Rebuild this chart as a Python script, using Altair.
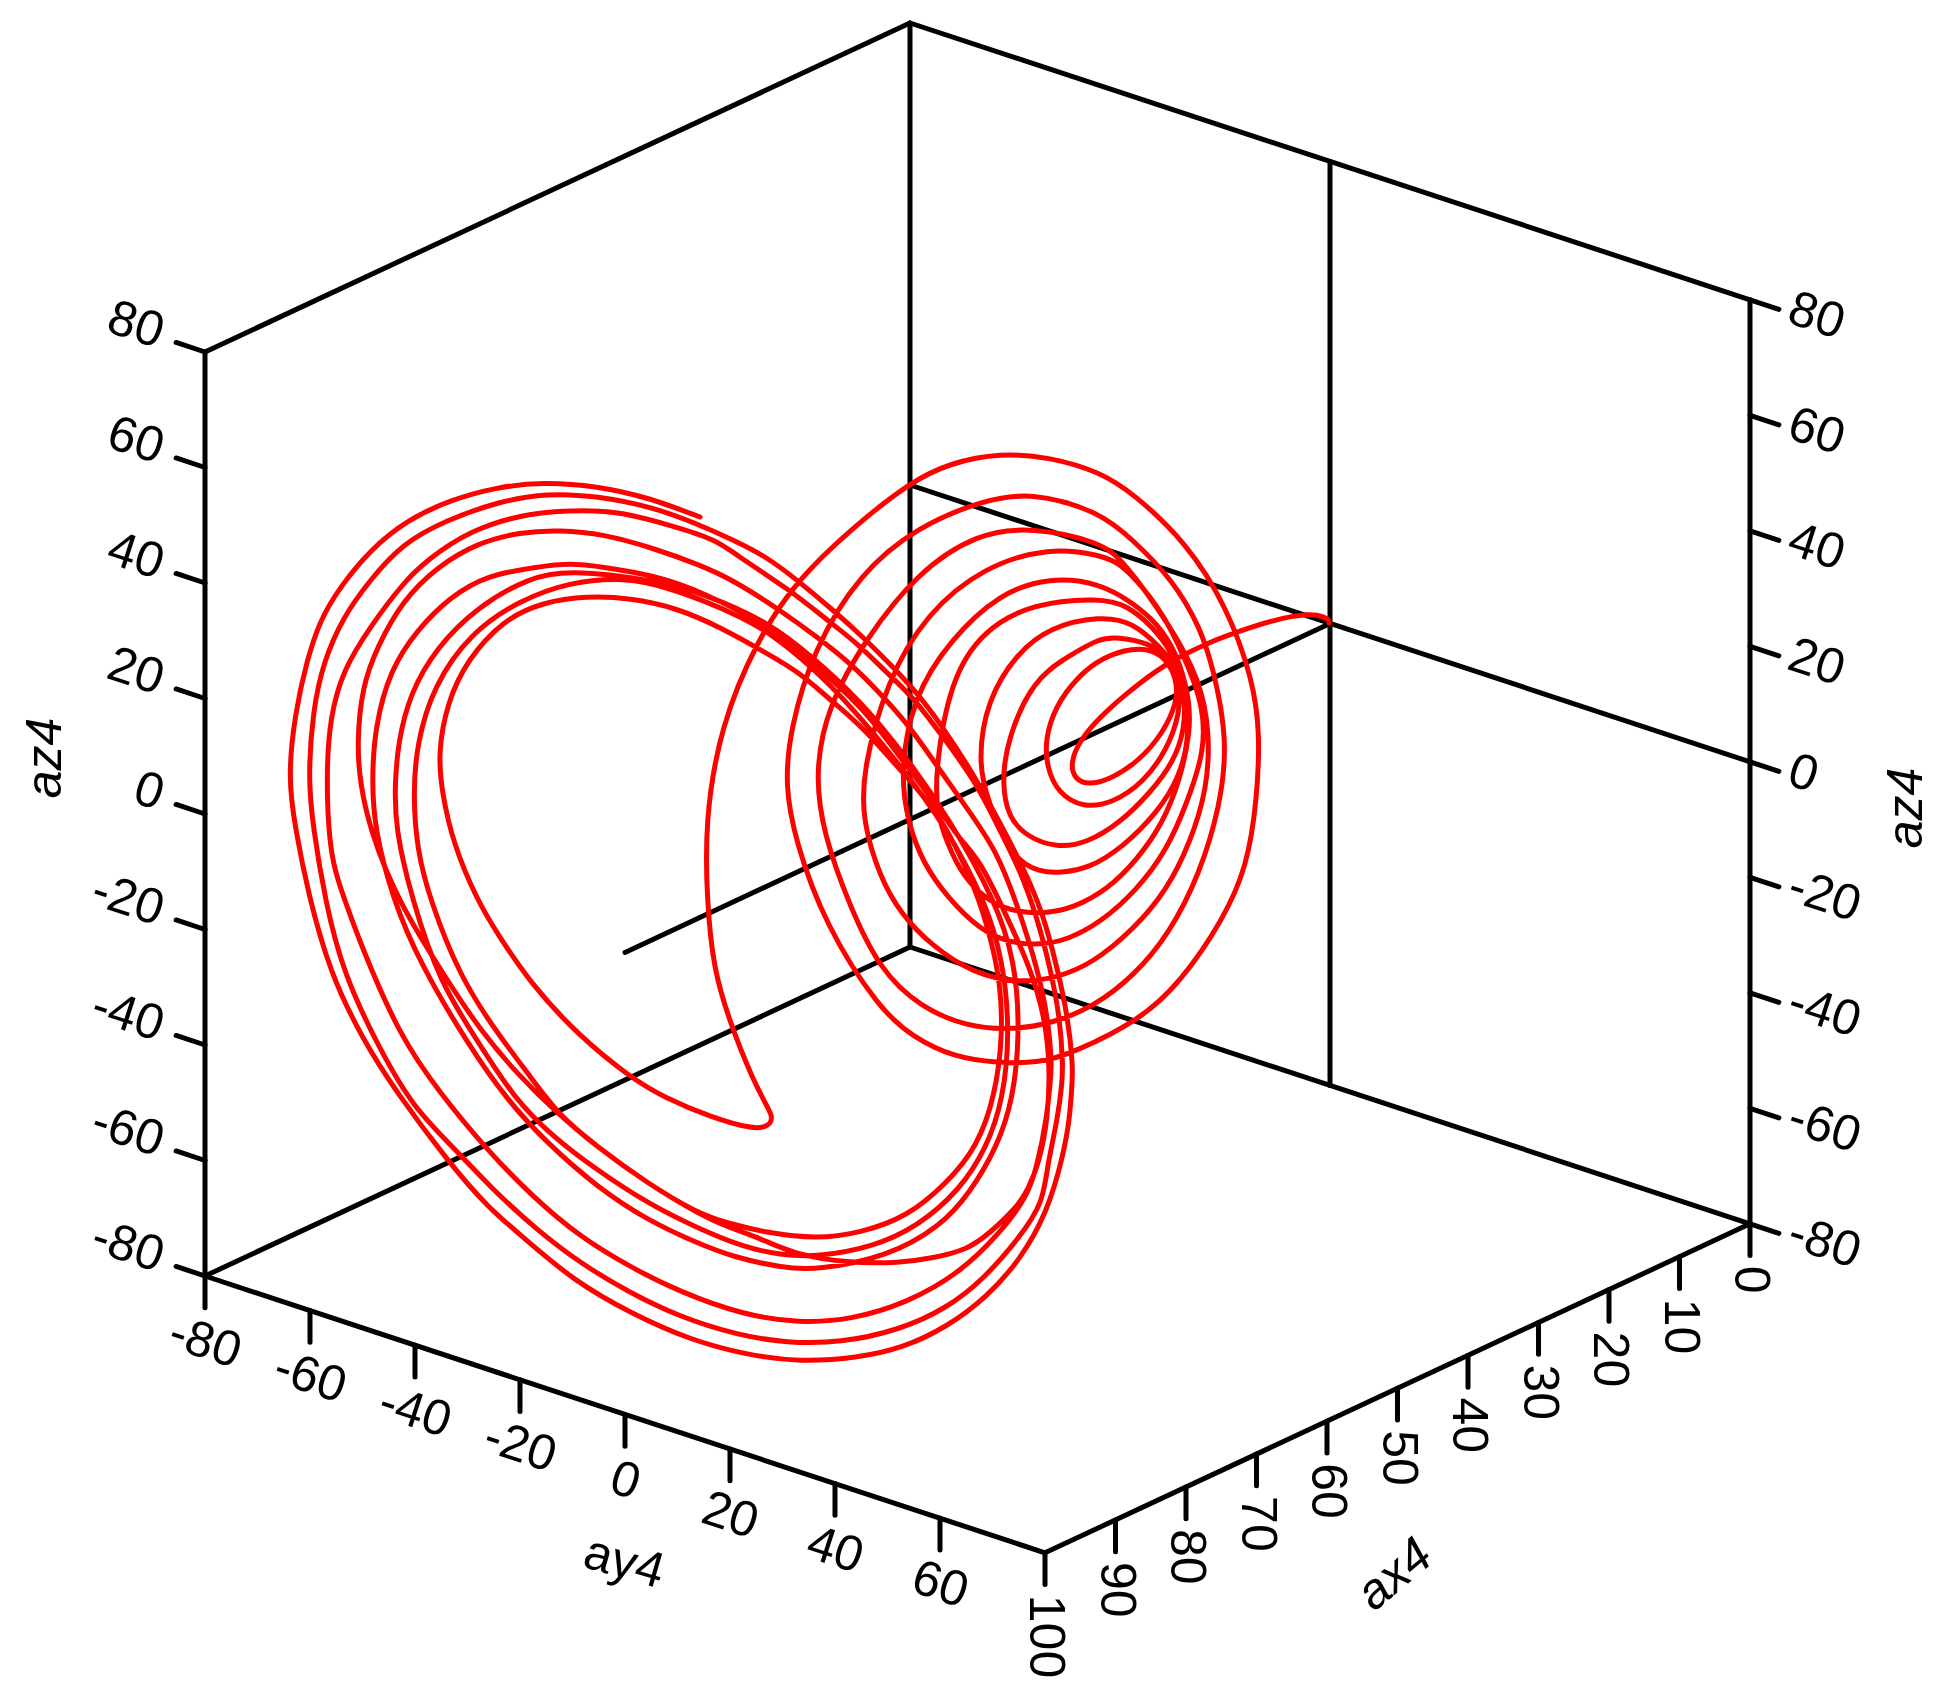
import altair as alt
import pandas as pd

# ---- values: screen trace of the projected trajectory
approach = [(1329,623),(1329,620),(1325,617),(1310,613),(1273,620),(1237,632),(1210,642),(1177,658),(1157,670),(1127,693),(1100,717),(1080,740),(1070,763),(1075,780)]
right_turn_1 = [(1090,785),(1113,778),(1140,760),(1163,733),(1177,703),(1177,680),(1167,660),(1153,650),(1133,648),(1103,657),(1077,677),(1055,707),(1045,740),(1047,768),(1058,793)]
right_turn_2 = [(1083,808),(1113,803),(1143,783),(1167,750),(1180,713),(1180,683),(1167,657),(1150,643),(1117,637),(1100,638),(1067,657),(1033,680),(1007,740),(1002,783),(1008,817),(1027,837)]
right_turn_3 = [(1057,848),(1087,843),(1120,823),(1150,793),(1173,763),(1185,730),(1185,690),(1173,663),(1160,647),(1133,622),(1100,616),(1050,627),(1017,653),(987,700),(978,760),(987,800),(1013,860)]
right_turn_4 = [(1040,872),(1060,873),(1090,868),(1123,847),(1157,813),(1180,777),(1190,733),(1185,690),(1173,653),(1153,627),(1127,605),(1100,598),(1033,603),(983,630),(950,680),(935,773),(937,813),(947,843),(963,877),(990,903),(1020,913)]
right_turn_5 = [(1047,913),(1073,908),(1107,890),(1137,860),(1163,823),(1180,780),(1190,733),(1190,700),(1177,653),(1157,623),(1133,603),(1100,583),(1050,577),(1000,593),(950,640),(913,697),(900,773),(908,823),(923,863),(947,897),(980,930),(1010,943)]
right_turn_6 = [(1040,945),(1067,940),(1100,923),(1137,890),(1167,850),(1187,803),(1205,750),(1203,707),(1190,670),(1167,620),(1143,587),(1120,563),(1100,555),(1050,547),(983,567),(927,613),(887,680),(862,773),(863,823),(880,877),(900,913),(933,947),(973,973)]
right_turn_7 = [(1017,983),(1057,978),(1093,963),(1133,930),(1167,890),(1190,843),(1207,790),(1210,733),(1200,680),(1170,625),(1123,560),(1100,542),(1033,527),(977,533),(917,573),(867,637),(827,707),(815,773),(823,833),(850,907),(880,970),(920,1007),(967,1027)]
right_turn_8 = [(1013,1030),(1053,1023),(1093,1007),(1133,977),(1170,933),(1200,873),(1220,807),(1228,740),(1213,667),(1200,627),(1173,580),(1133,540),(1100,512),(1033,492),(983,500),(917,527),(860,573),(813,650),(790,730),(785,785),(795,840),(825,925),(880,1010),(913,1037),(953,1057)]
right_turn_9 = [(997,1063),(1040,1063),(1073,1053),(1140,1020),(1180,983),(1223,920),(1247,867),(1257,800),(1260,733),(1253,680),(1227,607),(1187,543),(1133,493),(1100,472),(1050,457),(1000,453),(950,463),(910,482),(850,530),(797,580),(757,640),(720,727),(705,823)]
crossing = [(707,900),(713,967),(730,1023),(753,1080),(768,1108),(772,1116),(771,1123),(765,1127),(753,1129),(713,1118),(663,1097),(630,1077),(580,1037),(530,983),(497,933),(477,900),(453,843)]
left_turn_1 = [(442,793),(438,753),(447,703),(467,660),(503,620),(543,602),(587,596),(630,598),(677,608),(720,627),(770,655),(800,673),(827,697),(863,727),(900,770),(940,813),(977,890),(993,947),(1000,983),(1003,1033),(995,1097),(977,1147),(947,1183),(907,1217),(860,1233),(817,1239),(767,1233),(727,1223),(697,1213),(647,1183),(597,1147),(557,1113),(533,1080),(497,1033),(460,977),(430,900),(417,850)]
left_turn_2 = [(413,793),(417,743),(433,687),(470,633),(520,600),(570,582),(620,578),(653,583),(703,600),(743,618),(770,633),(810,665),(850,705),(900,765),(945,825),(985,900),(1003,960),(1010,1033),(1003,1100),(987,1147),(960,1190),(917,1227),(873,1247),(817,1257),(780,1255),(743,1247),(697,1228),(647,1203),(597,1170),(553,1137),(513,1097),(477,1040),(440,983),(412,900)]
left_turn_3 = [(395,827),(395,783),(398,743),(410,693),(437,647),(477,607),(530,577),(570,570),(653,580),(703,593),(770,623),(810,655),(860,700),(905,755),(950,820),(995,900),(1015,960),(1020,1033),(1013,1100),(997,1147),(970,1193),(940,1227),(887,1257),(817,1270),(783,1268),(733,1257),(697,1243),(647,1220),(597,1187),(547,1143),(507,1100),(467,1043),(420,963),(393,900)]
left_turn_4 = [(374,827),(372,777),(375,727),(390,670),(417,630),(450,597),(487,575),(537,567),(570,563),(603,567),(653,575),(703,592),(767,625),(810,660),(843,690),(870,717),(900,757),(933,800),(960,840),(980,860),(1007,917),(1030,967),(1045,1017),(1050,1067),(1048,1117),(1040,1160),(1028,1190),(1017,1207),(990,1233),(967,1250),(933,1258),(900,1263),(847,1263),(793,1254),(760,1238),(727,1227),(697,1213),(647,1183),(597,1147),(557,1113),(520,1077),(480,1030),(447,980),(397,900),(370,830)]
left_turn_5 = [(360,783),(357,743),(362,687),(377,647),(403,600),(437,567),(477,543),(520,532),(560,530),(603,534),(653,548),(700,565),(733,580),(780,610),(817,637),(850,663),(877,690),(907,723),(933,760),(963,803),(997,850),(1020,913),(1037,967),(1048,1017),(1052,1067),(1050,1083),(1047,1117),(1037,1167),(1027,1197),(1000,1233),(960,1273),(907,1303),(850,1320),(800,1323),(743,1315),(680,1292),(630,1267),(580,1237),(533,1197),(487,1150),(440,1093),(400,1037),(360,943),(345,900),(330,860)]
left_turn_6 = [(326,777),(330,717),(343,670),(370,627),(403,583),(427,560),(470,530),(530,512),(587,510),(620,512),(670,525),(717,540),(733,553),(790,590),(827,620),(857,643),(887,673),(913,697),(940,733),(977,783),(1003,837),(1020,870),(1037,917),(1050,967),(1060,1017),(1063,1067),(1062,1083),(1058,1117),(1047,1167),(1043,1203),(1020,1237),(983,1280),(947,1308),(900,1330),(840,1343),(787,1343),(737,1335),(680,1317),(630,1293),(580,1263),(537,1230),(493,1190),(453,1147),(413,1107),(380,1050),(343,973),(325,900)]
left_turn_7 = [(313,827),(308,777),(313,710),(323,663),(343,617),(370,580),(403,543),(447,520),(497,502),(547,493),(597,496),(653,507),(700,525),(733,540),(767,557),(797,580),(833,610),(863,637),(893,667),(917,693),(940,723),(973,773),(1000,823),(1023,867),(1043,913),(1057,967),(1068,1017),(1073,1067),(1072,1083),(1070,1117),(1063,1157),(1047,1213),(1020,1260),(987,1297),(947,1327),(903,1348),(857,1358),(800,1362),(747,1355),(690,1340),(630,1313),(573,1280),(530,1243),(487,1207),(447,1160),(397,1093),(363,1040),(330,973),(308,893)]
left_turn_8 = [(295,827),(288,777),(295,713),(307,660),(320,620),(340,587),(370,550),(407,520),(450,500),(497,487),(543,482),(597,486),(647,497),(700,517)]

segments = [approach, right_turn_1, right_turn_2, right_turn_3, right_turn_4, right_turn_5,
            right_turn_6, right_turn_7, right_turn_8, right_turn_9, crossing, left_turn_1,
            left_turn_2, left_turn_3, left_turn_4, left_turn_5, left_turn_6, left_turn_7, left_turn_8]

# ---- axis values
ax_ticks = [0, 10, 20, 30, 40, 50, 60, 70, 80, 90, 100]
ay_ticks = [-80, -60, -40, -20, 0, 20, 40, 60]
az_ticks = [-80, -60, -40, -20, 0, 20, 40, 60, 80]
tick_len = 5.5

# screen position of the corner (ax=100, ay=-80, az=-80) and of the unit steps
ORIGIN = (205.0, 1276.0)
AX_STEP = (-7.05, 3.29)
AY_STEP = (5.25, 1.73)
AZ_STEP = (0.0, -5.775)


def project(ax, ay, az):
    a, b, c = ax - 100, ay + 80, az + 80
    return (ORIGIN[0] + a * AX_STEP[0] + b * AY_STEP[0] + c * AZ_STEP[0],
            ORIGIN[1] + a * AX_STEP[1] + b * AY_STEP[1] + c * AZ_STEP[1])


frame_edges = [
    ((100, -80, -80), (100, -80, 80)), ((100, -80, 80), (0, -80, 80)), ((0, -80, 80), (0, 80, 80)),
    ((0, 80, 80), (0, 80, -80)), ((0, -80, 80), (0, -80, -80)), ((100, -80, -80), (0, -80, -80)),
    ((0, -80, -80), (0, 80, -80)), ((100, -80, -80), (100, 80, -80)), ((100, 80, -80), (0, 80, -80)),
    ((0, 0, 80), (0, 0, -80)), ((0, -80, 0), (0, 80, 0)), ((0, 0, 0), (100, 0, 0)),
]
for z in az_ticks:
    frame_edges.append(((100, -80, z), (100, -80 - tick_len, z)))
    frame_edges.append(((0, 80, z), (0, 80 + tick_len, z)))
for y in ay_ticks:
    frame_edges.append(((100, y, -80), (100, y, -80 - tick_len)))
for x in ax_ticks:
    frame_edges.append(((x, 80, -80), (x, 80, -80 - tick_len)))

rows = []
for p, q in frame_edges:
    h, v = project(*p)
    h2, v2 = project(*q)
    rows.append(dict(h=h, v=v, h2=h2, v2=v2))
frame_df = pd.DataFrame(rows)

curve = [pt for seg in segments for pt in seg]
curve_df = pd.DataFrame(dict(h=[p[0] for p in curve], v=[p[1] for p in curve], i=range(len(curve))))


def labels(points, texts, off):
    return pd.DataFrame(dict(h=[p[0] + off[0] for p in points], v=[p[1] + off[1] for p in points], t=texts))


left_df = labels([project(100, -80, z) for z in az_ticks], [str(z) for z in az_ticks], (-43, -18))
right_df = labels([project(0, 80, z) for z in az_ticks], [str(z) for z in az_ticks], (40, 8))
ay_df = labels([project(100, y, -80) for y in ay_ticks], [str(y) for y in ay_ticks], (0, 67))
ax_df = labels([project(x, 80, -80) for x in ax_ticks], [str(x) for x in ax_ticks], (0, 42))

xs = alt.Scale(domain=[8, 1940], nice=False, zero=False)
ys = alt.Scale(domain=[1694, 8], nice=False, zero=False)
X = alt.X("h:Q", scale=xs, axis=None)
Y = alt.Y("v:Q", scale=ys, axis=None)
FONT = "Liberation Sans"
SIZE = 50


def text_layer(df, **kw):
    return alt.Chart(df).mark_text(font=FONT, fontSize=SIZE, color="black", baseline="middle", **kw).encode(
        x=X, y=Y, text="t:N")


frame = alt.Chart(frame_df).mark_rule(color="black", strokeWidth=5, strokeCap="round").encode(
    x=X, y=Y, x2="h2:Q", y2="v2:Q")
line = alt.Chart(curve_df).mark_line(color="#ff0000", strokeWidth=5, interpolate="basis",
                                     strokeCap="round", strokeJoin="round").encode(
    x=X, y=Y, order="i:Q")

title_df = pd.DataFrame(dict(
    h=[46, 1907, 624, 1395], v=[758, 808, 1563, 1575], t=["az4", "az4", "ay4", "ax4"]))

chart = alt.layer(
    frame, line,
    text_layer(left_df, align="right", angle=18),
    text_layer(right_df, align="left", angle=18),
    text_layer(ay_df, align="center", angle=18),
    text_layer(ax_df, align="left", angle=90),
    text_layer(title_df.iloc[[0, 1]], align="center", angle=270, fontStyle="italic"),
    text_layer(title_df.iloc[[2]], align="center", angle=16),
    text_layer(title_df.iloc[[3]], align="center", angle=320, fontStyle="italic"),
).properties(width=1932, height=1686, padding=0).configure_view(stroke=None)

chart.save("out.html", embed_options={"renderer": "svg", "actions": False})
